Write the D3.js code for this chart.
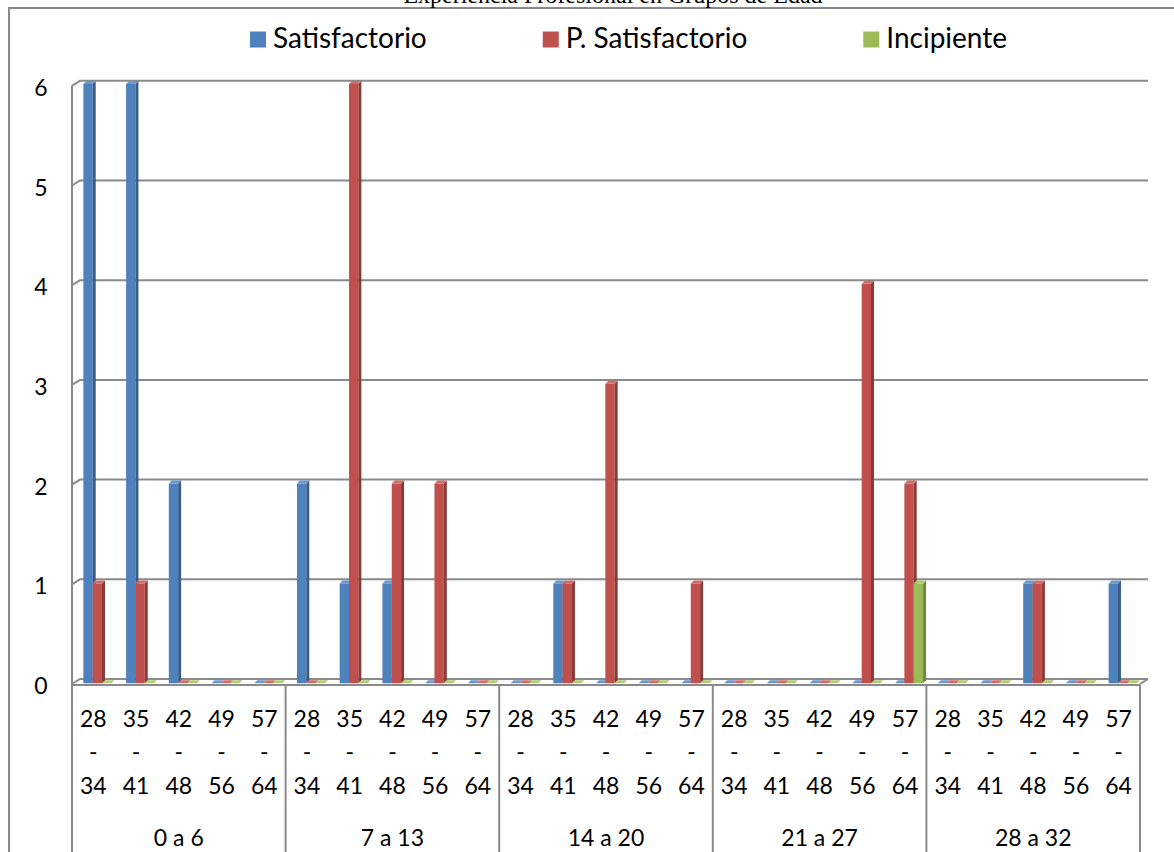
<!DOCTYPE html>
<html>
<head>
<meta charset="utf-8">
<script src="https://cdn.jsdelivr.net/npm/d3@7"></script>
<style>
  html, body { margin: 0; padding: 0; background: #fff; }
  svg { display: block; }
</style>
</head>
<body>
<svg id="chart" width="1174" height="852"></svg>
<script>
// ---------- data ----------
const title = "Experiencia Profesional en Grupos de Edad";
const groups = ["0 a 6", "7 a 13", "14 a 20", "21 a 27", "28 a 32"];
const ageRanges = ["28 - 34", "35 - 41", "42 - 48", "49 - 56", "57 - 64"];
const seriesNames = ["Satisfactorio", "P. Satisfactorio", "Incipiente"];
const satisfactorio  = [6, 6, 2, 0, 0,  2, 1, 1, 0, 0,  0, 1, 0, 0, 0,  0, 0, 0, 0, 0,  0, 0, 1, 0, 1];
const pSatisfactorio = [1, 1, 0, 0, 0,  0, 6, 2, 2, 0,  0, 1, 3, 0, 1,  0, 0, 0, 4, 2,  0, 0, 1, 0, 0];
const incipiente     = [0, 0, 0, 0, 0,  0, 0, 0, 0, 0,  0, 0, 0, 0, 0,  0, 0, 0, 0, 1,  0, 0, 0, 0, 0];
const yTicks = [0, 1, 2, 3, 4, 5, 6];

// ---------- style ----------
const colors = {
  "Satisfactorio":    { front: "#4F81BD", side: "#385D8A", top: "#6E97CA" },
  "P. Satisfactorio": { front: "#C0504D", side: "#8C3A38", top: "#CF6D6A" },
  "Incipiente":       { front: "#9BBB59", side: "#718A40", top: "#B1CB78" }
};
const gridColor = "#8a8a8a";
const font = "Lato, 'Open Sans', sans-serif";
const axisFontSize = 23;

const svg = d3.select("#chart");

const seriesValues = [satisfactorio, pSatisfactorio, incipiente];
const cats = [];
groups.forEach((g, gi) => ageRanges.forEach((a, ai) => cats.push({ id: gi * ageRanges.length + ai, group: g, age: a })));

// 3D layout: back wall plane, bar plane, front plane
const depth = { dx: 8, dy: 5 };           // back -> front offset
const xFront = d3.scaleBand().domain(cats.map(c => c.id)).range([72, 1140]).paddingInner(0).paddingOuter(0);
const xMid = d3.scaleBand().domain(cats.map(c => c.id)).range([76, 1144]);
const xSeries = d3.scaleBand().domain(seriesNames).range([0, xMid.bandwidth()]).paddingInner(0).paddingOuter(0.79);
const yBack = d3.scaleLinear().domain([0, 6]).range([679, 80.8]);
const yBar = d3.scaleLinear().domain([0, 6]).range([683.3, 84]);
const barDepth = { dx: 3, dy: 3 };

// ---------- outer frame ----------
svg.append("rect").attr("x", 9).attr("y", 8).attr("width", 1300).attr("height", 1000)
  .attr("fill", "none").attr("stroke", "#8a8a8a").attr("stroke-width", 2);

// ---------- title (mostly cut off at top, as in the source) ----------
svg.append("text").attr("x", 613).attr("y", 3).attr("text-anchor", "middle")
  .attr("font-family", "'Liberation Serif', 'Times New Roman', serif").attr("font-size", 24)
  .attr("fill", "#000").text(title);

// ---------- legend ----------
const legend = svg.append("g");
let lx = 250;
seriesNames.forEach(name => {
  legend.append("rect").attr("x", lx).attr("y", 31.5).attr("width", 16).attr("height", 16)
    .attr("fill", colors[name].front);
  const t = legend.append("text").attr("x", lx + 23).attr("y", 47.5)
    .attr("font-family", font).attr("font-size", 28).attr("fill", "#000").text(name);
  lx = lx + 23 + t.node().getComputedTextLength() + 116;
});

// ---------- gridlines (back wall + side wall) ----------
const grid = svg.append("g");
yTicks.forEach(v => {
  const yb = yBack(v);
  const xb0 = xFront.range()[0] + depth.dx;
  const xb1 = xFront.range()[1] + depth.dx;
  grid.append("path")
    .attr("d", `M${xFront.range()[0]},${yb + depth.dy} L${xb0},${yb} L${xb1},${yb}`)
    .attr("fill", "none").attr("stroke", gridColor).attr("stroke-width", 2);
});
// floor right edge
grid.append("path")
  .attr("d", `M${xFront.range()[1]},${yBack(0) + depth.dy} L${xFront.range()[1] + depth.dx},${yBack(0)}`)
  .attr("fill", "none").attr("stroke", gridColor).attr("stroke-width", 2);

// ---------- bars ----------
const bars = svg.append("g");
cats.forEach(c => {
  seriesNames.forEach((name, si) => {
    const v = seriesValues[si][c.id];
    const x = xMid(c.id) + xSeries(name);
    const w = xSeries.bandwidth();
    const y0 = yBar(0), y1 = yBar(v);
    const col = colors[name];
    if (v > 0) {
      bars.append("rect").attr("x", x).attr("y", y1).attr("width", w).attr("height", y0 - y1).attr("fill", col.front);
      bars.append("path")
        .attr("d", `M${x + w},${y1} L${x + w + barDepth.dx},${y1 - barDepth.dy} L${x + w + barDepth.dx},${y0 - barDepth.dy} L${x + w},${y0} Z`)
        .attr("fill", col.side);
    }
    bars.append("path")
      .attr("d", `M${x},${y1} L${x + w},${y1} L${x + w + barDepth.dx},${y1 - barDepth.dy} L${x + barDepth.dx},${y1 - barDepth.dy} Z`)
      .attr("fill", col.top);
  });
});

// ---------- axes lines ----------
const axisG = svg.append("g");
const yFront0 = yBack(0) + depth.dy;
axisG.append("line").attr("x1", xFront.range()[0]).attr("x2", xFront.range()[0])
  .attr("y1", yBack(6) + depth.dy).attr("y2", 860).attr("stroke", gridColor).attr("stroke-width", 2);
axisG.append("line").attr("x1", xFront.range()[0]).attr("x2", xFront.range()[1])
  .attr("y1", yFront0 + 1).attr("y2", yFront0 + 1).attr("stroke", gridColor).attr("stroke-width", 2);
groups.forEach((g, gi) => {
  const xr = xFront((gi + 1) * ageRanges.length - 1) + xFront.bandwidth();
  axisG.append("line").attr("x1", xr).attr("x2", xr).attr("y1", yFront0 + 1).attr("y2", 860)
    .attr("stroke", gridColor).attr("stroke-width", 2);
});

// ---------- y tick labels ----------
const yl = svg.append("g");
yTicks.forEach(v => {
  yl.append("text").attr("x", 41).attr("y", yBack(v) + 6).attr("text-anchor", "middle")
    .attr("dominant-baseline", "central").attr("font-family", font).attr("font-size", axisFontSize)
    .attr("fill", "#000").text(v);
});

// ---------- category labels ----------
const xl = svg.append("g");
cats.forEach(c => {
  const cx = xFront(c.id) + xFront.bandwidth() / 2;
  const parts = c.age.split(" - ");
  [[parts[0], 718], ["-", 751], [parts[1], 785]].forEach(([txt, y]) => {
    xl.append("text").attr("x", cx).attr("y", y).attr("text-anchor", "middle")
      .attr("dominant-baseline", "central").attr("font-family", font).attr("font-size", axisFontSize)
      .attr("fill", "#000").text(txt);
  });
});
groups.forEach((g, gi) => {
  const xa = xFront(gi * ageRanges.length);
  const xb = xFront((gi + 1) * ageRanges.length - 1) + xFront.bandwidth();
  xl.append("text").attr("x", (xa + xb) / 2).attr("y", 837).attr("text-anchor", "middle")
    .attr("dominant-baseline", "central").attr("font-family", font).attr("font-size", axisFontSize)
    .attr("fill", "#000").text(g);
});
</script>
</body>
</html>
